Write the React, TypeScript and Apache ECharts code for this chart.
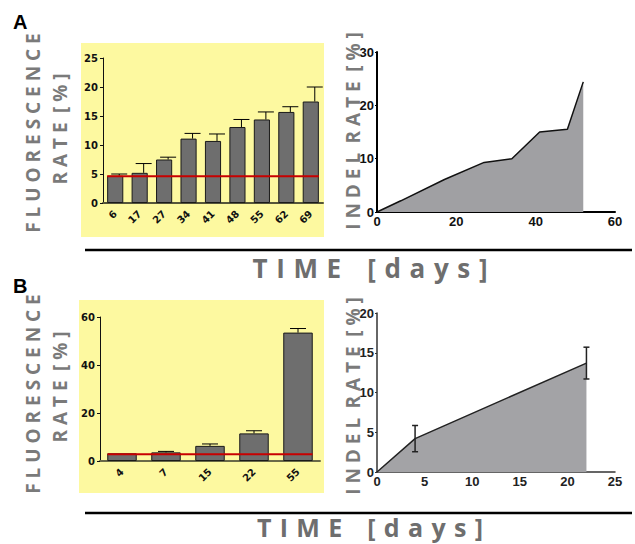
import React, { useEffect, useRef } from "react";
import * as echarts from "echarts";

// ---------- Panel A data ----------
const daysA = ["6", "17", "27", "34", "41", "48", "55", "62", "69"];
const fluorA = [4.7, 5.2, 7.5, 11.1, 10.7, 13.1, 14.4, 15.7, 17.5];
const fluorErrA = [0.3, 1.6, 0.4, 0.9, 1.2, 1.3, 1.3, 0.9, 2.5];
const baselineA = 4.6;
const indelDaysA = [0, 6, 17, 27, 34, 41, 48, 52];
const indelA = [0, 2.1, 6.1, 9.3, 10.0, 15.0, 15.5, 24.4];

// ---------- Panel B data ----------
const daysB = ["4", "7", "15", "22", "55"];
const fluorB = [3.2, 3.6, 6.3, 11.5, 53.5];
const fluorErrB = [0, 0.4, 0.8, 1.1, 1.7];
const baselineB = 2.8;
const indelDaysB = [0, 4, 22];
const indelB = [0, 4.2, 13.7];
const indelErrB = [0, 1.65, 2.0];

// ---------- Tick settings ----------
const yTicksA = { min: 0, max: 25, interval: 5 };
const yTicksIndelA = { min: 0, max: 30, interval: 10 };
const xTicksIndelA = { min: 0, max: 60, interval: 20 };
const yTicksB = { min: 0, max: 60, interval: 20 };
const yTicksIndelB = { min: 0, max: 20, interval: 5 };
const xTicksIndelB = { min: 0, max: 25, interval: 5 };

const GRAY_TITLE = "#7a7a7a";
const SP = "\u2002";

function spaced(word: string, sep = " ") {
  return word.split("").join(sep);
}

export default function App() {
  const ref = useRef<HTMLDivElement>(null);

  useEffect(() => {
    if (!ref.current) return;
    const chart = echarts.init(ref.current, undefined, { renderer: "svg" });

    const barLabelStyle = {
      fontFamily: "DejaVu Sans",
      fontWeight: "bold" as const,
      fontSize: 10,
      color: "#111",
    };
    const valLabelStyle = {
      fontFamily: "Liberation Sans",
      fontWeight: "bold" as const,
      fontSize: 13,
      color: "#111",
    };

    const errRender = (offset: number, capHalf: number) => (params: any, api: any) => {
      const x = api.value(0);
      const v = api.value(1);
      const e = api.value(2);
      if (!e) return { type: "group", children: [] };
      const base = api.coord([x, v]);
      const top = api.coord([x, v + e]);
      const cx = base[0] + offset;
      return {
        type: "group",
        children: [
          { type: "line", shape: { x1: cx, y1: base[1], x2: cx, y2: top[1] }, style: { stroke: "#000", lineWidth: 1 } },
          { type: "line", shape: { x1: cx - capHalf, y1: top[1], x2: cx + capHalf, y2: top[1] }, style: { stroke: "#000", lineWidth: 1 } },
        ],
      };
    };

    const redLineRender = (n: number) => (params: any, api: any) => {
      const v = api.value(1);
      const s = api.coord([0, v]);
      const e = api.coord([n - 1, v]);
      const half = api.size([1, 0])[0] * 0.33;
      return {
        type: "line",
        shape: { x1: s[0] - half, y1: s[1], x2: e[0] + half, y2: e[1] },
        style: { stroke: "#c80000", lineWidth: 2 },
        z2: 10,
      };
    };

    const symErrRender = (params: any, api: any) => {
      const x = api.value(0);
      const v = api.value(1);
      const e = api.value(2);
      if (!e) return { type: "group", children: [] };
      const lo = api.coord([x, v - e]);
      const hi = api.coord([x, v + e]);
      const cx = lo[0];
      const st = { stroke: "#222", lineWidth: 1.5 };
      return {
        type: "group",
        children: [
          { type: "line", shape: { x1: cx, y1: lo[1], x2: cx, y2: hi[1] }, style: st },
          { type: "line", shape: { x1: cx - 3, y1: lo[1], x2: cx + 3, y2: lo[1] }, style: st },
          { type: "line", shape: { x1: cx - 3, y1: hi[1], x2: cx + 3, y2: hi[1] }, style: st },
        ],
      };
    };

    const vText = (text: string, x: number, y: number, size: number) => ({
      type: "text",
      x,
      y,
      rotation: Math.PI / 2,
      z: 100,
      style: {
        text,
        fill: GRAY_TITLE,
        font: `bold ${size}px "Open Sans"`,
        textAlign: "center",
        textVerticalAlign: "middle",
      },
    });

    const timeText = spaced("TIME", "\u2004") + "\u2003" + spaced("[days]", "\u2004");

    const option: any = {
      animation: false,
      backgroundColor: "#ffffff",
      grid: [
        { left: 103, top: 58, width: 220, height: 145 },
        { left: 377, top: 52, width: 238, height: 160 },
        { left: 100, top: 317, width: 220, height: 144 },
        { left: 377, top: 313, width: 238, height: 159 },
      ],
      xAxis: [
        {
          gridIndex: 0,
          type: "category",
          data: daysA,
          axisLine: { lineStyle: { color: "#55553a", width: 2 } },
          axisTick: { show: false },
          axisLabel: { ...barLabelStyle, rotate: 45, margin: 9, interval: 0 },
        },
        {
          gridIndex: 1,
          type: "value",
          ...xTicksIndelA,
          axisLine: { onZero: false, lineStyle: { color: "#000", width: 2 } },
          axisTick: { show: false },
          splitLine: { show: false },
          axisLabel: { ...valLabelStyle, margin: 3 },
        },
        {
          gridIndex: 2,
          type: "category",
          data: daysB,
          axisLine: { lineStyle: { color: "#6a6a48", width: 2 } },
          axisTick: { show: false },
          axisLabel: { ...barLabelStyle, rotate: 45, margin: 9, interval: 0 },
        },
        {
          gridIndex: 3,
          type: "value",
          ...xTicksIndelB,
          axisLine: { onZero: false, lineStyle: { color: "#333", width: 1.5 } },
          axisTick: { show: false },
          splitLine: { show: false },
          axisLabel: { ...valLabelStyle, color: "#222", margin: 3 },
        },
      ],
      yAxis: [
        {
          gridIndex: 0,
          type: "value",
          ...yTicksA,
          axisLine: { show: true, lineStyle: { color: "#111", width: 1 } },
          axisTick: { show: true, length: 3, lineStyle: { color: "#111" } },
          splitLine: { show: false },
          axisLabel: { ...barLabelStyle, margin: 5 },
        },
        {
          gridIndex: 1,
          type: "value",
          ...yTicksIndelA,
          axisLine: { show: true, lineStyle: { color: "#000", width: 2 } },
          axisTick: { show: true, length: 2, lineStyle: { color: "#000" } },
          splitLine: { show: false },
          axisLabel: { ...valLabelStyle, margin: 3 },
        },
        {
          gridIndex: 2,
          type: "value",
          ...yTicksB,
          axisLine: { show: true, lineStyle: { color: "#111", width: 1 } },
          axisTick: { show: true, length: 3, lineStyle: { color: "#111" } },
          splitLine: { show: false },
          axisLabel: { ...barLabelStyle, margin: 5 },
        },
        {
          gridIndex: 3,
          type: "value",
          ...yTicksIndelB,
          axisLine: { show: true, lineStyle: { color: "#333", width: 1.5 } },
          axisTick: { show: true, length: 2, lineStyle: { color: "#333" } },
          splitLine: { show: false },
          axisLabel: { ...valLabelStyle, color: "#222", margin: 3 },
        },
      ],
      series: [
        {
          type: "bar",
          xAxisIndex: 0,
          yAxisIndex: 0,
          data: fluorA,
          barWidth: "66%",
          itemStyle: { color: "#6e6e6e", borderColor: "#1a1a1a", borderWidth: 1 },
        },
        {
          type: "custom",
          xAxisIndex: 0,
          yAxisIndex: 0,
          renderItem: errRender(4, 8),
          data: fluorA.map((v, i) => [i, v, fluorErrA[i]]),
          z: 3,
        },
        {
          type: "custom",
          xAxisIndex: 0,
          yAxisIndex: 0,
          renderItem: redLineRender(daysA.length),
          data: [[0, baselineA]],
          z: 5,
        },
        {
          type: "line",
          xAxisIndex: 1,
          yAxisIndex: 1,
          data: indelDaysA.map((d, i) => [d, indelA[i]]),
          symbol: "none",
          lineStyle: { color: "#111", width: 1.5 },
          areaStyle: { color: "#a0a0a3", opacity: 1 },
        },
        {
          type: "bar",
          xAxisIndex: 2,
          yAxisIndex: 2,
          data: fluorB,
          barWidth: "67%",
          itemStyle: { color: "#6e6e6e", borderColor: "#1a1a1a", borderWidth: 1 },
        },
        {
          type: "custom",
          xAxisIndex: 2,
          yAxisIndex: 2,
          renderItem: errRender(0, 8),
          data: fluorB.map((v, i) => [i, v, fluorErrB[i]]),
          z: 3,
        },
        {
          type: "custom",
          xAxisIndex: 2,
          yAxisIndex: 2,
          renderItem: redLineRender(daysB.length),
          data: [[0, baselineB]],
          z: 5,
        },
        {
          type: "line",
          xAxisIndex: 3,
          yAxisIndex: 3,
          data: indelDaysB.map((d, i) => [d, indelB[i]]),
          symbol: "none",
          lineStyle: { color: "#222", width: 1.5 },
          areaStyle: { color: "#a3a3a6", opacity: 1 },
        },
        {
          type: "custom",
          xAxisIndex: 3,
          yAxisIndex: 3,
          renderItem: symErrRender,
          data: indelDaysB.map((d, i) => [d, indelB[i], indelErrB[i]]),
          z: 5,
        },
      ],
      graphic: {
        elements: [
          { type: "rect", z: -10, silent: true, shape: { x: 81, y: 43, width: 243, height: 194 }, style: { fill: "#fdf9a0" } },
          { type: "rect", z: -10, silent: true, shape: { x: 79, y: 300, width: 245, height: 193 }, style: { fill: "#fdf9a0" } },
          {
            type: "text", x: 13, y: 22, z: 100,
            style: { text: "A", fill: "#000", font: 'bold 20px "Liberation Sans"', textAlign: "left", textVerticalAlign: "middle" },
          },
          {
            type: "text", x: 13, y: 286, z: 100,
            style: { text: "B", fill: "#000", font: 'bold 20px "Liberation Sans"', textAlign: "left", textVerticalAlign: "middle" },
          },
          vText(spaced("FLUORESCENCE"), 33, 133, 19),
          vText(spaced("RATE") + SP + spaced("[%]"), 60, 129, 19),
          vText(spaced("INDEL") + SP + spaced("RATE") + SP + spaced("[%]"), 353, 131, 19),
          vText(spaced("FLUORESCENCE"), 33, 394, 19),
          vText(spaced("RATE") + SP + spaced("[%]"), 60, 387, 19),
          vText(spaced("INDEL") + SP + spaced("RATE") + SP + spaced("[%]"), 353, 396, 19),
          { type: "line", z: 100, shape: { x1: 85, y1: 250, x2: 632, y2: 250 }, style: { stroke: "#000", lineWidth: 2.5 } },
          { type: "line", z: 100, shape: { x1: 85, y1: 513, x2: 632, y2: 513 }, style: { stroke: "#000", lineWidth: 2.5 } },
          {
            type: "text", x: 370, y: 268, z: 100,
            style: { text: timeText, fill: "#6e6e6e", font: 'bold 26px "Open Sans"', textAlign: "center", textVerticalAlign: "middle" },
          },
          {
            type: "text", x: 370, y: 527, z: 100,
            style: { text: timeText, fill: "#6e6e6e", font: 'bold 25px "Open Sans"', textAlign: "center", textVerticalAlign: "middle" },
          },
        ],
      },
    };

    chart.setOption(option);
    return () => chart.dispose();
  }, []);

  return (
    <div
      ref={ref}
      style={{ position: "absolute", left: 0, top: 0, width: 635, height: 544 }}
    />
  );
}
